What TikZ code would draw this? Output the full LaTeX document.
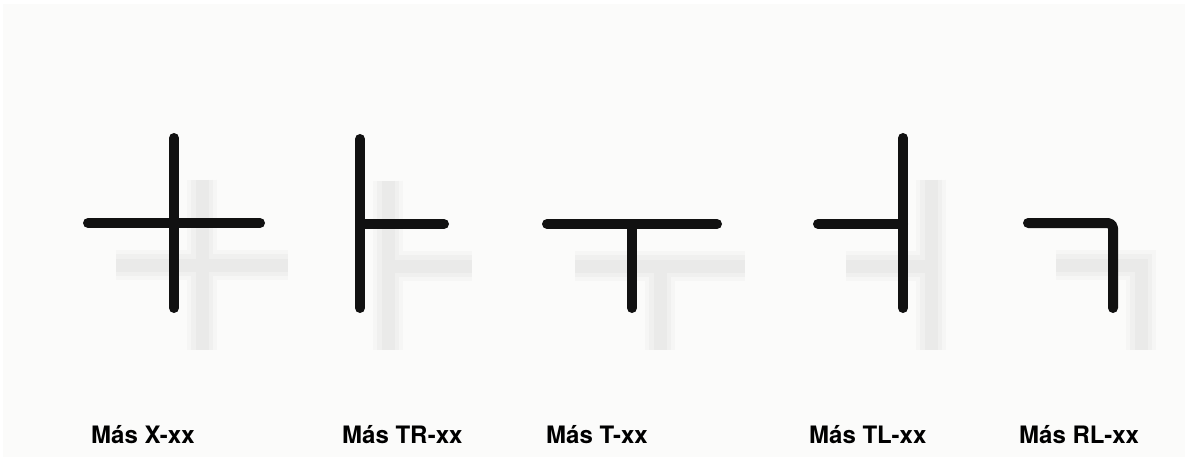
\documentclass[tikz,border=0pt]{standalone}
\usepackage{fontspec}
\setmainfont{TeX Gyre Heros}
\definecolor{bgcol}{RGB}{251,251,250}
\definecolor{barcol}{RGB}{17,17,17}
\definecolor{shdA}{RGB}{246,246,245}
\definecolor{shdB}{RGB}{240,240,239}
\definecolor{shdC}{RGB}{234,234,233}
\tikzset{
    lab/.style={
        font=\fontsize{24}{29}\selectfont\bfseries, anchor=base west, inner sep=0pt
    }
}

\begin{document}
\begin{tikzpicture}[x=1pt,y=-1pt, line cap=round, line join=round]

\tikzset{
  bar/.style={draw=barcol, line width=10pt},
  shd/.style={line width=#1, line cap=butt, line join=miter},
}

% background
\useasboundingbox (0,0) rectangle (1185,457);
\fill[white] (0,0) rectangle (1185,457);
\fill[bgcol] (3,4) rectangle (1185,457);

% nodes
\coordinate (Xt) at (174,138);
\coordinate (Xb) at (174,308);
\coordinate (Xl) at (88,223);
\coordinate (Xr) at (260,223);

\coordinate (TRt) at (360,139);
\coordinate (TRb) at (360,308);
\coordinate (TRm) at (360,224);
\coordinate (TRr) at (444,224);

\coordinate (Tl) at (547,224);
\coordinate (Tr) at (717,224);
\coordinate (Tm) at (632,224);
\coordinate (Tb) at (632,308);

\coordinate (TLt) at (903,138);
\coordinate (TLb) at (903,308);
\coordinate (TLm) at (903,224);
\coordinate (TLl) at (818,224);

\coordinate (RLl) at (1028,223);
\coordinate (RLc) at (1113,223);
\coordinate (RLb) at (1113,308);

% shadows (soft, offset down-right)
\foreach \w/\c in {30pt/shdA, 22pt/shdB, 13pt/shdC}{
  \foreach \a/\b in {Xt/Xb, Xl/Xr, TRt/TRb, TRm/TRr, Tl/Tr, Tm/Tb, TLt/TLb, TLl/TLm}
    \draw[shd=\w, draw=\c] ([shift={(28,42)}]\a) -- ([shift={(28,42)}]\b);
  \draw[shd=\w, draw=\c] ([shift={(28,42)}]RLl) -- ([shift={(28,42)}]RLc) -- ([shift={(28,42)}]RLb);
}

% bars X
\draw[bar] (Xt) -- (Xb);
\draw[bar] (Xl) -- (Xr);

% bars TR
\draw[bar] (TRt) -- (TRb);
\draw[bar] (TRm) -- (TRr);

% bars T
\draw[bar] (Tl) -- (Tr);
\draw[bar] (Tm) -- (Tb);

% bars TL
\draw[bar] (TLt) -- (TLb);
\draw[bar] (TLl) -- (TLm);

% bars RL (rounded corner)
\draw[bar, rounded corners=5pt] (RLl) -- (RLc) -- (RLb);

% labels
\node[lab] (labX)  at (91,443)   {Más X-xx};
\node[lab] (labTR) at (342,443)  {Más TR-xx};
\node[lab] (labT)  at (546,443)  {Más T-xx};
\node[lab] (labTL) at (809,443)  {Más TL-xx};
\node[lab] (labRL) at (1019,443) {Más RL-xx};

\end{tikzpicture}
\end{document}
